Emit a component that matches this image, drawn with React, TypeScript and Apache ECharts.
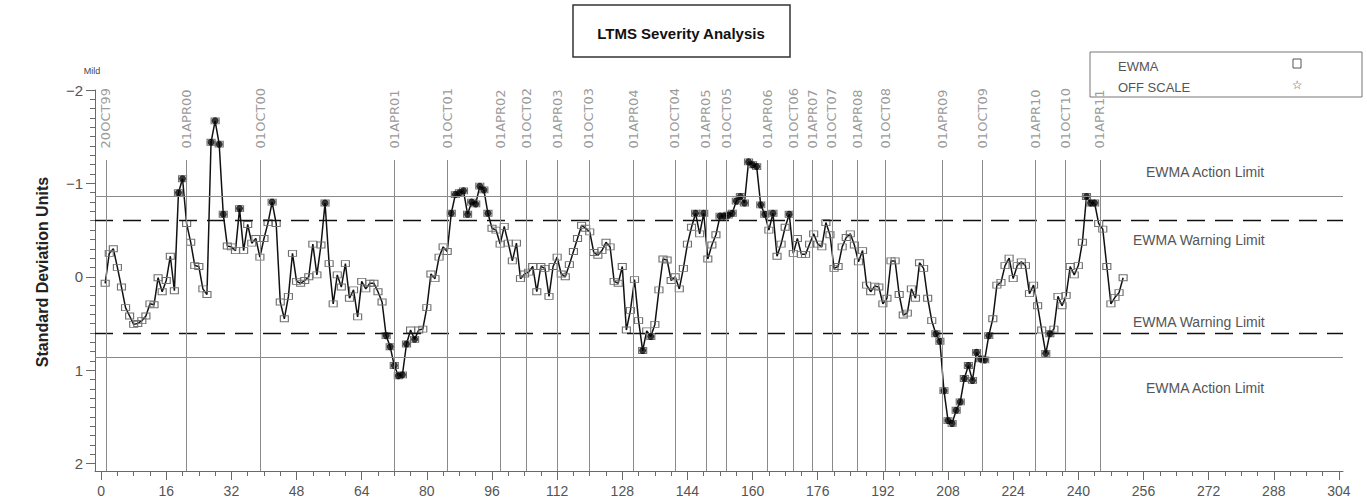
import React, { useEffect, useRef } from 'react';
import * as echarts from 'echarts';

// EWMA severity values for tests 1..251 (standard deviation units)
const ewmaValues = [
  0.07, -0.25, -0.30, -0.10, 0.11, 0.33, 0.42, 0.51, 0.50, 0.47,
  0.42, 0.29, 0.30, 0.01, 0.16, 0.04, -0.22, 0.15, -0.90, -1.05,
  -0.57, -0.37, -0.12, -0.11, 0.13, 0.19, -1.44, -1.67, -1.42, -0.67,
  -0.33, -0.32, -0.28, -0.73, -0.28, -0.56, -0.36, -0.41, -0.21, -0.41,
  -0.58, -0.80, -0.57, 0.27, 0.45, 0.21, -0.25, 0.05, 0.07, 0.04,
  0.00, -0.35, -0.02, -0.34, -0.79, -0.14, 0.29, -0.02, 0.11, -0.14,
  0.23, 0.14, 0.43, 0.05, 0.13, 0.07, 0.07, 0.16, 0.27, 0.63,
  0.75, 0.95, 1.06, 1.05, 0.72, 0.57, 0.67, 0.57, 0.56, 0.33,
  -0.03, 0.02, -0.21, -0.32, -0.27, -0.68, -0.88, -0.90, -0.92, -0.67,
  -0.80, -0.78, -0.97, -0.93, -0.68, -0.52, -0.50, -0.35, -0.54, -0.36,
  -0.17, -0.36, 0.02, -0.03, -0.05, -0.11, 0.16, -0.11, -0.09, 0.21,
  -0.11, -0.21, -0.03, 0.00, -0.13, -0.27, -0.41, -0.55, -0.52, -0.48,
  -0.26, -0.23, -0.28, -0.37, -0.32, 0.05, 0.07, -0.11, 0.57, 0.36,
  0.03, 0.47, 0.79, 0.58, 0.64, 0.51, 0.14, -0.19, -0.18, 0.04,
  0.00, 0.13, -0.09, -0.35, -0.53, -0.68, -0.46, -0.68, -0.19, -0.34,
  -0.45, -0.65, -0.65, -0.66, -0.68, -0.81, -0.86, -0.79, -1.23, -1.20,
  -1.18, -0.77, -0.67, -0.50, -0.68, -0.22, -0.35, -0.53, -0.67, -0.25,
  -0.41, -0.24, -0.24, -0.35, -0.46, -0.35, -0.32, -0.58, -0.45, -0.09,
  -0.11, -0.32, -0.42, -0.46, -0.34, -0.16, -0.28, 0.09, 0.16, 0.10,
  0.11, 0.29, 0.23, -0.17, -0.17, 0.19, 0.41, 0.39, 0.13, 0.23,
  -0.15, -0.09, 0.23, 0.47, 0.61, 0.69, 1.22, 1.54, 1.57, 1.43,
  1.34, 1.09, 0.95, 1.11, 0.81, 0.88, 0.89, 0.63, 0.45, 0.09,
  0.06, -0.12, -0.20, 0.02, -0.12, -0.16, -0.12, 0.18, 0.09, 0.31,
  0.57, 0.82, 0.61, 0.56, 0.21, 0.31, 0.20, -0.11, -0.02, -0.12,
  -0.37, -0.86, -0.79, -0.79, -0.57, -0.51, -0.11, 0.29, 0.22, 0.17,
  0.01,
];

// Date reference lines (test-number positions)
const dateLabels = [
  '20OCT99', '01APR00', '01OCT00', '01APR01', '01OCT01', '01APR02', '01OCT02', '01APR03',
  '01OCT03', '01APR04', '01OCT04', '01APR05', '01OCT05', '01APR06', '01OCT06', '01APR07',
  '01OCT07', '01APR08', '01OCT08', '01APR09', '01OCT09', '01APR10', '01OCT10', '01APR11',
];
const datePositions = [
  1.2, 21.0, 39.2, 72.0, 85.1, 98.1, 104.5, 112.0,
  119.8, 130.7, 140.9, 148.5, 153.6, 163.7, 170.0, 174.7,
  179.5, 185.7, 192.7, 206.7, 216.5, 229.5, 236.9, 245.3,
];

const warningLimit = 0.6;
const actionLimit = 0.86;
const xTickValues = [0, 16, 32, 48, 64, 80, 96, 112, 128, 144, 160, 176, 192, 208, 224, 240, 256, 272, 288, 304];
const yTickValues = [-2, -1, 0, 1, 2];

const NARROW = '"Liberation Sans Narrow", "Liberation Sans", Arial, sans-serif';
const SANS = '"Liberation Sans", Arial, sans-serif';

export default function App() {
  const ref = useRef<HTMLDivElement>(null);

  useEffect(() => {
    document.body.style.margin = '0';
    const chart = echarts.init(ref.current as HTMLDivElement, null, { renderer: 'svg' });

    const yMin = -2;
    const yMax = 2.08;
    const xMin = -1.5;
    const xMax = 305;

    const minorY: number[] = [];
    for (let k = -20; k <= 20; k++) minorY.push(k / 10);
    const minorX: number[] = [];
    for (let k = 0; k <= 76; k++) minorX.push(k * 4);

    const points = ewmaValues.map((v, i) => [i + 1, v]);
    const beyond = points.filter((p) => Math.abs(p[1]) > warningLimit);

    const axisColor = '#6a6a6a';

    const option: any = {
      animation: false,
      backgroundColor: '#ffffff',
      grid: { left: 95, right: 24, top: 90, bottom: 32, containLabel: false },
      xAxis: [
        {
          type: 'value',
          min: xMin,
          max: xMax,
          axisLine: { show: true, onZero: false, lineStyle: { color: axisColor, width: 1 } },
          axisTick: { show: true, customValues: xTickValues, length: 9, lineStyle: { color: axisColor } },
          axisLabel: {
            show: true,
            customValues: xTickValues,
            color: '#555',
            fontSize: 14,
            fontFamily: NARROW,
            margin: 13,
          },
          splitLine: { show: false },
        },
        {
          type: 'value',
          position: 'bottom',
          min: xMin,
          max: xMax,
          axisLine: { show: false, onZero: false },
          axisTick: { show: true, customValues: minorX, length: 5, lineStyle: { color: axisColor } },
          axisLabel: { show: false },
          splitLine: { show: false },
        },
      ],
      yAxis: [
        {
          type: 'value',
          inverse: true,
          min: yMin,
          max: yMax,
          axisLine: { show: true, onZero: false, lineStyle: { color: axisColor, width: 1 } },
          axisTick: { show: true, customValues: yTickValues, length: 9, lineStyle: { color: axisColor } },
          axisLabel: {
            show: true,
            customValues: yTickValues,
            color: '#555',
            fontSize: 15,
            fontFamily: NARROW,
            margin: 12,
            formatter: (v: number) => (v < 0 ? '\u2212' + Math.abs(v) : String(v)),
          },
          splitLine: { show: false },
        },
        {
          type: 'value',
          inverse: true,
          position: 'left',
          min: yMin,
          max: yMax,
          axisLine: { show: false, onZero: false },
          axisTick: { show: true, customValues: minorY, length: 5, lineStyle: { color: axisColor } },
          axisLabel: { show: false },
          splitLine: { show: false },
        },
      ],
      series: [
        {
          name: 'EWMA',
          type: 'line',
          data: points,
          symbol: 'rect',
          symbolSize: [8, 6],
          showAllSymbol: true,
          itemStyle: { color: 'rgba(255,255,255,0)', borderColor: '#707070', borderWidth: 1 },
          lineStyle: { color: '#111', width: 1.5 },
          z: 3,
          markLine: {
            silent: true,
            symbol: ['none', 'none'],
            label: { show: false },
            data: [
              { yAxis: -actionLimit, lineStyle: { color: '#8a8a8a', width: 1, type: 'solid' } },
              { yAxis: actionLimit, lineStyle: { color: '#8a8a8a', width: 1, type: 'solid' } },
              { yAxis: -warningLimit, lineStyle: { color: '#111', width: 1.3, type: [18, 10] } },
              { yAxis: warningLimit, lineStyle: { color: '#111', width: 1.3, type: [18, 10] } },
            ],
          },
        },
        {
          name: 'Beyond warning',
          type: 'scatter',
          data: beyond,
          symbol: 'circle',
          symbolSize: 7,
          itemStyle: { color: '#000' },
          z: 4,
        },
        {
          name: 'Dates',
          type: 'scatter',
          data: datePositions.map((x, i) => ({ value: [x, -1.38], name: dateLabels[i] })),
          symbolSize: 1,
          itemStyle: { color: 'rgba(0,0,0,0)' },
          label: {
            show: true,
            formatter: '{b}',
            position: 'insideBottom',
            rotate: 90,
            align: 'left',
            verticalAlign: 'middle',
            distance: 0,
            color: '#808080',
            fontSize: 13,
            fontFamily: '"DejaVu Sans", sans-serif',
          },
          z: 2,
          markLine: {
            silent: true,
            symbol: ['none', 'none'],
            label: { show: false },
            lineStyle: { color: '#8a8a8a', width: 1, type: 'solid' },
            data: datePositions.map((x) => [{ coord: [x, yMax] }, { coord: [x, -1.25] }]),
          },
        },
      ],
      graphic: [
        {
          type: 'rect',
          shape: { x: 573, y: 5, width: 217, height: 52 },
          style: { fill: '#fff', stroke: '#333', lineWidth: 1.5 },
        },
        {
          type: 'text',
          x: 681,
          y: 33,
          style: {
            text: 'LTMS Severity Analysis',
            fill: '#111',
            fontSize: 15,
            fontWeight: 'bold',
            fontFamily: NARROW,
            textAlign: 'center',
            textVerticalAlign: 'middle',
          },
        },
        {
          type: 'rect',
          shape: { x: 1090, y: 52, width: 272, height: 45 },
          style: { fill: 'rgba(255,255,255,0)', stroke: '#777', lineWidth: 1 },
        },
        {
          type: 'text',
          x: 1118,
          y: 66,
          style: { text: 'EWMA', fill: '#555', fontSize: 13, fontFamily: NARROW, textVerticalAlign: 'middle' },
        },
        {
          type: 'text',
          x: 1118,
          y: 87,
          style: { text: 'OFF SCALE', fill: '#555', fontSize: 13, fontFamily: NARROW, textVerticalAlign: 'middle' },
        },
        {
          type: 'rect',
          shape: { x: 1293, y: 59, width: 8, height: 9 },
          style: { fill: 'rgba(255,255,255,0)', stroke: '#555', lineWidth: 1 },
        },
        {
          type: 'text',
          x: 1297,
          y: 85,
          style: { text: '\u2606', fill: '#555', fontSize: 12, fontFamily: '"DejaVu Sans", sans-serif', textAlign: 'center', textVerticalAlign: 'middle' },
        },
        {
          type: 'text',
          x: 92,
          y: 71,
          style: { text: 'Mild', fill: '#444', fontSize: 9, fontFamily: NARROW, textAlign: 'center', textVerticalAlign: 'middle' },
        },
        {
          type: 'text',
          x: 42,
          y: 272,
          rotation: Math.PI / 2,
          style: {
            text: 'Standard Deviation Units',
            fill: '#222',
            fontSize: 16,
            fontWeight: 'bold',
            fontFamily: SANS,
            textAlign: 'center',
            textVerticalAlign: 'middle',
          },
        },
        {
          type: 'text',
          x: 1146,
          y: 172,
          style: { text: 'EWMA Action Limit', fill: '#555', fontSize: 14, fontFamily: NARROW, textVerticalAlign: 'middle' },
        },
        {
          type: 'text',
          x: 1133,
          y: 240,
          style: { text: 'EWMA Warning Limit', fill: '#555', fontSize: 14, fontFamily: NARROW, textVerticalAlign: 'middle' },
        },
        {
          type: 'text',
          x: 1133,
          y: 322,
          style: { text: 'EWMA Warning Limit', fill: '#555', fontSize: 14, fontFamily: NARROW, textVerticalAlign: 'middle' },
        },
        {
          type: 'text',
          x: 1146,
          y: 388,
          style: { text: 'EWMA Action Limit', fill: '#555', fontSize: 14, fontFamily: NARROW, textVerticalAlign: 'middle' },
        },
      ],
    };

    chart.setOption(option);
    return () => chart.dispose();
  }, []);

  return <div ref={ref} style={{ width: 1367, height: 503 }} />;
}
